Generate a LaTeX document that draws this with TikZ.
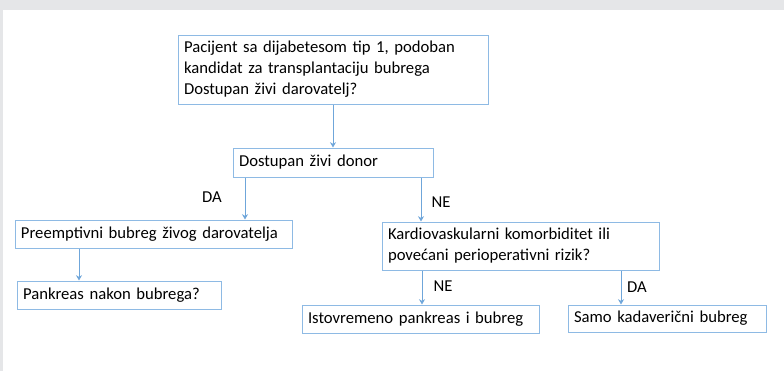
\documentclass[tikz,border=0pt]{standalone}
\usepackage{fontspec}
\setmainfont{Carlito}
\usetikzlibrary{arrows.meta}
\definecolor{bggrey}{HTML}{E5E6E8}
\definecolor{boxblue}{HTML}{8EBAE4}
\definecolor{arrblue}{HTML}{6FA6DA}
\begin{document}
\begin{tikzpicture}[x=0.75pt,y=-0.75pt,
  box/.style={draw=boxblue, line width=0.75pt, fill=white, text width=#1, align=left,
    inner xsep=4.5pt, inner ysep=0pt, font=\fontsize{12.5pt}{15.75pt}\selectfont},
  arr/.style={draw=arrblue, line width=0.7pt, -{Stealth[length=4pt,width=4.5pt]}},
  lbl/.style={font=\fontsize{12.5pt}{14pt}\selectfont, inner sep=0pt}]
\useasboundingbox (0,0) rectangle (784,371);
\fill[bggrey] (0,0) rectangle (784,371);
\fill[white] (3,10) rectangle (784,371);

\node[box=223.5pt, minimum height=51.75pt] (n1) at (333,69.5)
  {Pacijent sa dijabetesom tip 1, podoban\\kandidat za transplantaciju bubrega\\Dostupan živi darovatelj?};
\node[box=141pt, minimum height=21.75pt] (n2) at (333,162.5) {Dostupan živi donor};
\node[box=198.75pt, minimum height=21pt] (n3) at (153.5,234) {Preemptivni bubreg živog darovatelja};
\node[box=144pt, minimum height=21pt] (n4) at (119,295) {Pankreas nakon bubrega?};
\node[box=198.75pt, minimum height=36pt] (n5) at (520.5,246)
  {Kardiovaskularni komorbiditet ili\\povećani perioperativni rizik?};
\node[box=168.75pt, minimum height=21pt] (n6) at (420.5,319) {Istovremeno pankreas i bubreg};
\node[box=139.5pt, minimum height=20.25pt] (n7) at (667,318.5) {Samo kadaverični bubreg};

\coordinate (xa) at (245,0);
\coordinate (xb) at (421,0);
\coordinate (xc) at (79,0);
\coordinate (xd) at (422,0);
\coordinate (xe) at (621,0);

\draw[arr] (n1) -- (n2);
\draw[arr] (n2.south -| xa) -- (n3.north -| xa);
\draw[arr] (n2.south -| xb) -- (n5.north -| xb);
\draw[arr] (n3.south -| xc) -- (n4.north -| xc);
\draw[arr] (n5.south -| xd) -- (n6.north -| xd);
\draw[arr] (n5.south -| xe) -- (n7.north -| xe);

\node[lbl] (l1) at (212,197) {DA};
\node[lbl] (l2) at (441,202) {NE};
\node[lbl] (l3) at (443,286) {NE};
\node[lbl] (l4) at (637,287) {DA};
\end{tikzpicture}
\end{document}
